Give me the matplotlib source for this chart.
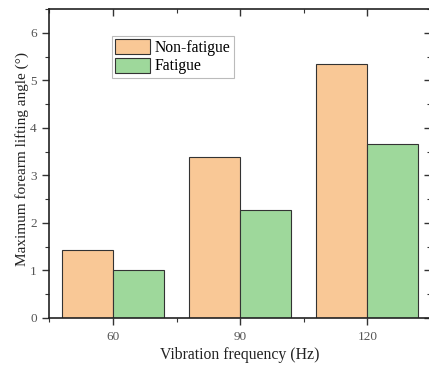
import matplotlib
matplotlib.use("Agg")
import matplotlib.pyplot as plt
import numpy as np
from matplotlib.ticker import MultipleLocator

categories = ["60", "90", "120"]
non_fatigue = [1.42, 3.38, 5.35]
fatigue = [1.02, 2.28, 3.67]

plt.rcParams['font.family'] = ['Liberation Serif', 'DejaVu Serif']

fig = plt.figure(figsize=(4.29, 3.65), dpi=100)
W, H = 429, 365
x0, x1, y0, y1 = 49.3, 431, 9, 318
ax = fig.add_axes([x0 / W, 1 - y1 / H, (x1 - x0) / W, (y1 - y0) / H])

x = np.arange(len(categories))
w = 0.4
ax.bar(x, non_fatigue, width=-w, align='edge', color='#F9C896', edgecolor='#333333', linewidth=0.8, label='Non-fatigue')
ax.bar(x, fatigue, width=w, align='edge', color='#9ED89B', edgecolor='#333333', linewidth=0.8, label='Fatigue')

ax.set_xlim(-0.5, 2.5)
ax.set_ylim(0, 6.5)
ax.set_xticks(x)
ax.set_xticklabels(categories)
ax.xaxis.set_minor_locator(MultipleLocator(1.0, offset=0.5))
ax.yaxis.set_major_locator(MultipleLocator(1))
ax.yaxis.set_minor_locator(MultipleLocator(0.5))

ax.tick_params(axis='both', which='both', labelsize=9.5, colors='#333333', labelcolor='#555555')
ax.tick_params(axis='x', which='both', top=True, bottom=True, pad=4)
ax.tick_params(axis='y', which='both', left=True, right=True, pad=4)
ax.tick_params(which='major', length=5, width=1, direction='out')
ax.tick_params(which='minor', length=3, width=0.8, direction='out')
# top and right ticks inward, bottom/left outward
for t in ax.xaxis.get_major_ticks() + ax.xaxis.get_minor_ticks():
    t.tick2line.set_marker(3)
for t in ax.yaxis.get_major_ticks() + ax.yaxis.get_minor_ticks():
    t.tick2line.set_marker(0)

for s in ax.spines.values():
    s.set_linewidth(1.2)
    s.set_color('#222222')

ax.set_xlabel('Vibration frequency (Hz)', fontsize=11.3, color='#222222')
ax.xaxis.set_label_coords(0.5, -(355 - y1) / (y1 - y0))
ax.xaxis.label.set_va('center')
ax.set_ylabel('Maximum forearm lifting angle (°)', fontsize=11, color='#222222')
ax.yaxis.set_label_coords(-(x0 - 22) / (x1 - x0), 0.513)
ax.yaxis.label.set_va('center')

leg = ax.legend(loc='upper left', bbox_to_anchor=(0.1635, 0.9126), fontsize=11.3,
                frameon=True, fancybox=False, edgecolor='#bbbbbb', framealpha=1,
                handlelength=2.25, handleheight=1.1, handletextpad=0.3,
                borderpad=0.2, labelspacing=0.1, borderaxespad=0)
leg.get_frame().set_linewidth(0.8)

fig.savefig('out.png', dpi=100)
